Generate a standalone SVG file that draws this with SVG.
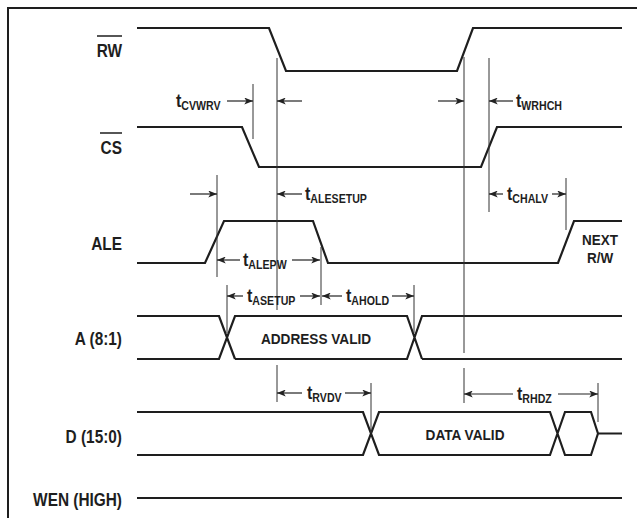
<svg xmlns="http://www.w3.org/2000/svg" width="637" height="518" viewBox="0 0 637 518">
<style>
.sig{fill:none;stroke:#1e1e1e;stroke-width:2.2;stroke-linejoin:miter}
.mk{fill:none;stroke:#333;stroke-width:1}
.ar{fill:none;stroke:#222;stroke-width:1.2;marker-end:url(#ah)}
.lbl{font-family:"Liberation Sans",Arial,sans-serif;font-weight:bold;font-size:17.5px;fill:#1e1e1e;text-anchor:end}
.tx{font-family:"Liberation Sans",Arial,sans-serif;font-weight:bold;font-size:15.5px;fill:#1e1e1e;text-anchor:middle}
.tm{font-family:"Liberation Sans",Arial,sans-serif;font-weight:bold;font-size:18.5px;fill:#1e1e1e}
.sb{font-size:12.2px}
.ol{stroke:#1e1e1e;stroke-width:1.5}
</style>
<defs>
<marker id="ah" viewBox="0 0 10 8" refX="10" refY="4" markerWidth="10" markerHeight="7" markerUnits="userSpaceOnUse" orient="auto">
<path d="M0,0 L10,4 L0,8 L2.5,4 z" fill="#222"/>
</marker>
</defs>
<rect width="637" height="518" fill="#fff"/>
<path d="M8,530 L8,8 L650,8" fill="none" stroke="#1e1e1e" stroke-width="2"/>

<g id="rw">
<text class="lbl" transform="translate(122 57) scale(0.88 1)">RW</text>
<line class="ol" x1="97" y1="36" x2="122" y2="36"/>
<path class="sig" d="M137,28 L269,28 L286,71 L457,71 L473,28 L622,28"/>
</g>
<g id="cs">
<text class="lbl" transform="translate(122 154) scale(0.88 1)">CS</text>
<line class="ol" x1="100" y1="133" x2="122" y2="133"/>
<path class="sig" d="M137,127 L242,127 L259,167 L481,167 L497,127 L622,127"/>
</g>
<g id="ale">
<text class="lbl" transform="translate(122 250) scale(0.88 1)">ALE</text>
<path class="sig" d="M137,263 L205,263 L224,221 L313,221 L328,263 L558,263 L574,221 L622,221"/>
<text class="tx" transform="translate(600 245) scale(0.87 1)">NEXT</text>
<text class="tx" transform="translate(600 263) scale(0.87 1)">R/W</text>
</g>
<g id="addr">
<text class="lbl" transform="translate(122 345) scale(0.88 1)">A (8:1)</text>
<path class="sig" d="M137,316 L219,316 L235,359 M137,359 L219,359 L235,316 L407,316 L422,359 M235,359 L407,359 L422,316 L622,316 M422,359 L622,359"/>
<text class="tx" transform="translate(316 344) scale(0.88 1)">ADDRESS VALID</text>
</g>
<g id="data">
<text class="lbl" transform="translate(122 443) scale(0.88 1)">D (15:0)</text>
<path class="sig" d="M137,412 L363,412 L379,455 L550,455 L565,412 L591,412 L598,433.5 L622,433.5 M137,455 L363,455 L379,412 L550,412 L565,455 L591,455 L598,433.5"/>
<text class="tx" transform="translate(465 440) scale(0.88 1)">DATA VALID</text>
</g>
<g id="wen">
<text class="lbl" transform="translate(122 506) scale(0.88 1)">WEN (HIGH)</text>
<path class="sig" d="M137,498 L622,498"/>
</g>

<g id="connectors">
<g id="markers">
<line class="mk" x1="253" y1="84" x2="253" y2="139"/>
<line class="mk" x1="277" y1="58" x2="277" y2="310"/>
<line class="mk" x1="464" y1="57" x2="464" y2="353"/>
<line class="mk" x1="464" y1="368" x2="464" y2="403"/>
<line class="mk" x1="489" y1="58" x2="489" y2="212"/>
<line class="mk" x1="217" y1="175" x2="217" y2="277"/>
<line class="mk" x1="321" y1="247" x2="321" y2="305"/>
<line class="mk" x1="227" y1="285" x2="227" y2="333"/>
<line class="mk" x1="414" y1="285" x2="414" y2="333"/>
<line class="mk" x1="566" y1="178" x2="566" y2="230"/>
<line class="mk" x1="277" y1="365" x2="277" y2="402"/>
<line class="mk" x1="371" y1="383" x2="371" y2="433"/>
<line class="mk" x1="598" y1="383" x2="598" y2="422"/>
</g>
<g id="arrows">
<line class="ar" x1="227" y1="101" x2="253" y2="101"/>
<line class="ar" x1="302" y1="101" x2="277" y2="101"/>
<line class="ar" x1="438" y1="101" x2="464" y2="101"/>
<line class="ar" x1="513" y1="101" x2="489" y2="101"/>
<line class="ar" x1="190" y1="194" x2="217" y2="194"/>
<line class="ar" x1="302" y1="194" x2="277" y2="194"/>
<line class="ar" x1="503" y1="194" x2="489" y2="194"/>
<line class="ar" x1="552" y1="194" x2="566" y2="194"/>
<line class="ar" x1="240" y1="260" x2="217" y2="260"/>
<line class="ar" x1="292" y1="260" x2="320" y2="260"/>
<line class="ar" x1="243" y1="296" x2="227" y2="296"/>
<line class="ar" x1="300" y1="296" x2="320" y2="296"/>
<line class="ar" x1="342" y1="296" x2="322" y2="296"/>
<line class="ar" x1="392" y1="296" x2="414" y2="296"/>
<line class="ar" x1="302" y1="393" x2="277" y2="393"/>
<line class="ar" x1="345" y1="393" x2="371" y2="393"/>
<line class="ar" x1="513" y1="394" x2="464" y2="394"/>
<line class="ar" x1="558" y1="394" x2="598" y2="394"/>
</g>
<g id="timing-labels">
<text class="tm" transform="translate(176 107) scale(0.87 1)">t<tspan class="sb" dy="3">CVWRV</tspan></text>
<text class="tm" transform="translate(516 107) scale(0.87 1)">t<tspan class="sb" dy="3">WRHCH</tspan></text>
<text class="tm" transform="translate(305 200) scale(0.87 1)">t<tspan class="sb" dy="3">ALESETUP</tspan></text>
<text class="tm" transform="translate(507 200) scale(0.87 1)">t<tspan class="sb" dy="3">CHALV</tspan></text>
<text class="tm" transform="translate(243 266) scale(0.87 1)">t<tspan class="sb" dy="3">ALEPW</tspan></text>
<text class="tm" transform="translate(247 302) scale(0.87 1)">t<tspan class="sb" dy="3">ASETUP</tspan></text>
<text class="tm" transform="translate(346 302) scale(0.87 1)">t<tspan class="sb" dy="3">AHOLD</tspan></text>
<text class="tm" transform="translate(307 399) scale(0.87 1)">t<tspan class="sb" dy="3">RVDV</tspan></text>
<text class="tm" transform="translate(517 400) scale(0.87 1)">t<tspan class="sb" dy="3">RHDZ</tspan></text>
</g>
</g>
</svg>
